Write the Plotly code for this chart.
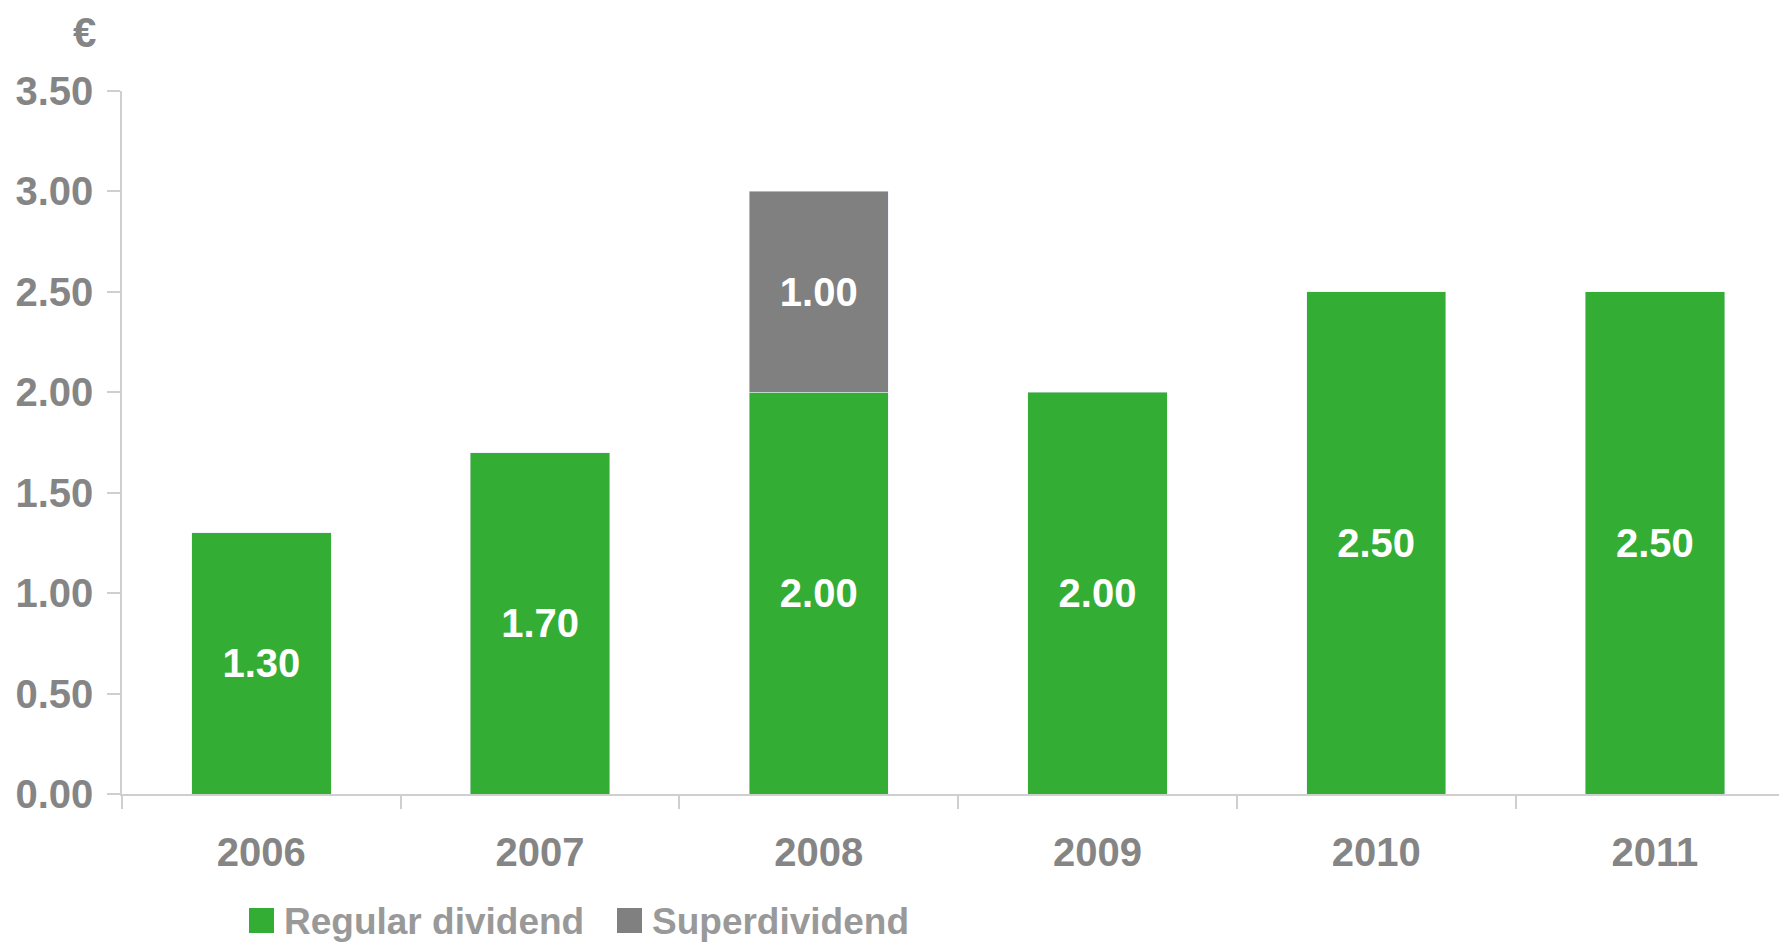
import plotly.graph_objects as go

years = ["2006", "2007", "2008", "2009", "2010", "2011"]
regular = [1.30, 1.70, 2.00, 2.00, 2.50, 2.50]
superdiv = [None, None, 1.00, None, None, None]
series_names = ["Regular dividend", "Superdividend"]
y_ticks = [0, 0.5, 1.0, 1.5, 2.0, 2.5, 3.0, 3.5]

GREEN = "#34AD35"
GREY = "#808080"
TXT = "#858585"
LEG = "#999999"
FONT = "Liberation Sans, Arial, sans-serif"

fig = go.Figure()
for vals, name, color in [(regular, series_names[0], GREEN), (superdiv, series_names[1], GREY)]:
    fig.add_trace(go.Bar(
        x=years, y=vals, name=name, marker_color=color,
        texttemplate="%{y:.2f}", textposition="inside", insidetextanchor="middle",
        textfont=dict(family=FONT, size=40, color="white", weight="bold"),
        constraintext="none", showlegend=False,
    ))

OFF = 8  # page body margin offset
W, H = 1787 - OFF, 942 - OFF
ML, MR, MT, MB = 122 - OFF, 0, 91 - OFF, 148

fig.update_layout(
    width=W, height=H,
    barmode="stack", bargap=0.5,
    plot_bgcolor="white", paper_bgcolor="white",
    margin=dict(l=ML, r=MR, t=MT, b=MB, autoexpand=False),
    font=dict(family=FONT, color=TXT),
    xaxis=dict(
        type="category", range=[-0.5, 5.474],
        showline=True, linecolor="#cfcfcf", linewidth=2,
        ticks="outside", tickson="boundaries", ticklen=13, tickcolor="#cfcfcf", tickwidth=1.5,
        tickfont=dict(family=FONT, size=40, color=TXT, weight="bold"),
        ticklabelstandoff=22,
        showgrid=False, zeroline=False,
    ),
    yaxis=dict(
        range=[0, 3.5], tickvals=y_ticks, tickformat=".2f",
        showline=True, linecolor="#cfcfcf", linewidth=1.5,
        ticks="outside", ticklen=13, tickcolor="#cfcfcf", tickwidth=1.5,
        tickfont=dict(family=FONT, size=40, color=TXT, weight="bold"),
        ticklabelstandoff=6,
        showgrid=False, zeroline=False,
    ),
    showlegend=False,
)

PW, PH = W - ML - MR, H - MT - MB
def px_x(p):
    return (p - OFF - ML) / PW
def px_y(p):
    return (H - MB - (p - OFF)) / PH

# currency unit label (box top at figure top so it is not clipped)
fig.add_annotation(
    text="€", xref="paper", yref="paper",
    x=px_x(84), y=px_y(OFF),
    xanchor="center", yanchor="top", showarrow=False, borderpad=0,
    font=dict(family=FONT, size=42, color=TXT, weight="bold"),
)

# custom legend (large swatches)
legend_items = [(series_names[0], GREEN, 249), (series_names[1], GREY, 617)]
for name, color, x0 in legend_items:
    fig.add_shape(type="rect", xref="paper", yref="paper",
                  x0=px_x(x0), x1=px_x(x0 + 25), y0=px_y(933), y1=px_y(908),
                  fillcolor=color, line=dict(width=0))
    fig.add_annotation(text=name, xref="paper", yref="paper",
                       x=px_x(x0 + 33), y=px_y(921), xanchor="left", yanchor="middle",
                       showarrow=False,
                       font=dict(family=FONT, size=37, color=LEG, weight="bold"))

fig.write_html("out.html")
